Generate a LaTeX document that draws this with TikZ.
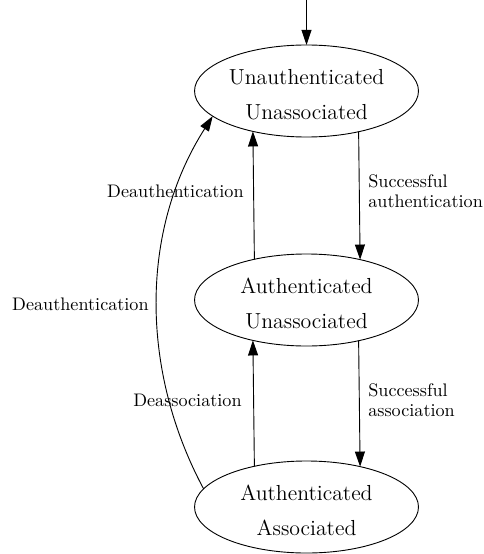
\documentclass[tikz,border=0pt]{standalone}
\usepackage{fontspec}
\usetikzlibrary{shapes.geometric,arrows.meta}
\begin{document}
\begin{tikzpicture}[x=0.551pt,y=-0.551pt,
  state/.style={draw,ellipse,minimum width=123.4pt,minimum height=50.7pt,
    inner sep=0pt,outer sep=0pt,line width=0.5pt},
  % state names sit a little below the ellipse centre
  sttxt/.style={align=center,inner sep=0pt,yshift=-2pt,
    font=\fontsize{12}{19.3}\selectfont},
  trans/.style={-{Triangle[length=8.3pt,width=5.5pt]},line width=0.5pt},
  lab/.style={font=\fontsize{10}{11}\selectfont,align=left,inner sep=0pt}]
\useasboundingbox (0,0) rectangle (483,554);

% states
\node[state,label={[sttxt]center:{Unauthenticated\\Unassociated}}] (ua) at (306.5,91) {};
\node[state,label={[sttxt]center:{Authenticated\\Unassociated}}] (au) at (306.5,300) {};
\node[state,label={[sttxt]center:{Authenticated\\Associated}}] (aa) at (306.5,507) {};

% initial transition
\coordinate (init) at (306.5,0);
\draw[trans] (init) -- (ua.north);

% transitions between neighbouring states
\draw[trans] (ua.322.26) -- (au.37.74);
\draw[trans] (au.142.26) -- (ua.217.74);
\draw[trans] (au.322.26) -- (aa.37.74);
\draw[trans] (aa.142.26) -- (au.217.74);

% long deauthentication arc
\draw[trans] (aa.170.76) .. controls (140,370) and (140,230) .. (ua.195.3);

% labels
\node[lab,anchor=west] (l1) at (368,191) {Successful\\authentication};
\node[lab,anchor=east] (l2) at (244,191) {Deauthentication};
\node[lab,anchor=west] (l3) at (368,400) {Successful\\association};
\node[lab,anchor=east] (l4) at (242,400) {Deassociation};
\node[lab,anchor=east] (l5) at (149,304) {Deauthentication};
\end{tikzpicture}
\end{document}
